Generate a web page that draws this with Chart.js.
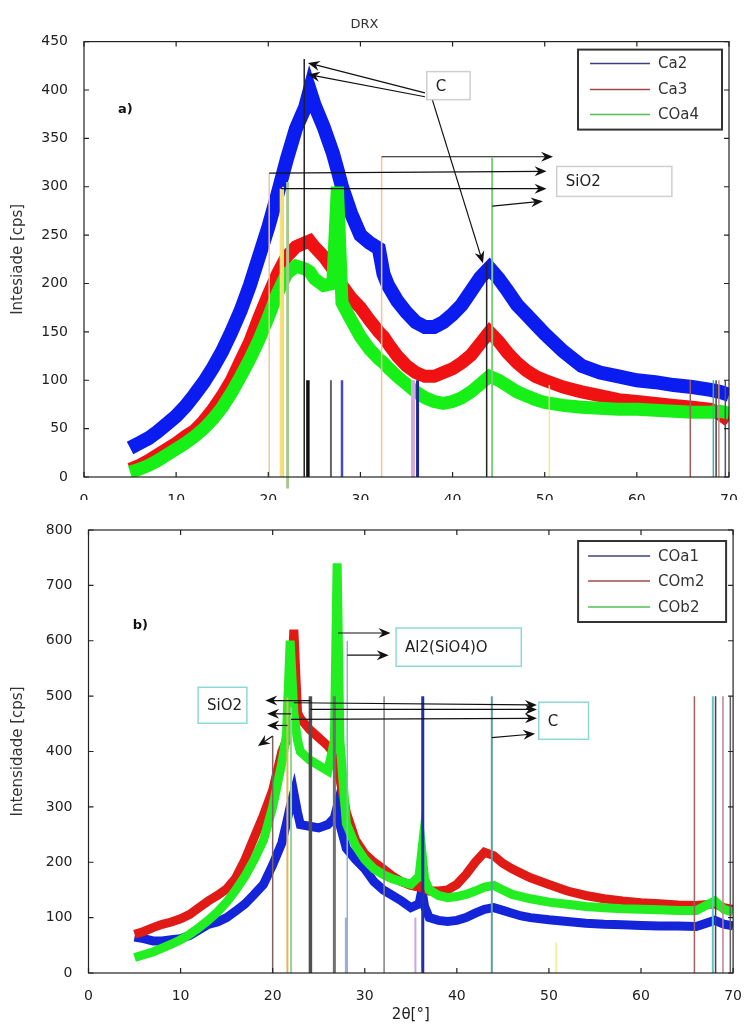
<!DOCTYPE html>
<html>
<head>
<meta charset="utf-8">
<script src="https://cdn.jsdelivr.net/npm/chart.js@4.4.0/dist/chart.umd.min.js"></script>
<style>
  html, body { margin: 0; padding: 0; background: #fff; }
  #wrap { position: relative; width: 749px; height: 1027px; overflow: hidden; }
  .panel { position: absolute; left: 0; width: 749px; }
  #p1 { top: 0; height: 500px; }
  #p2 { top: 500px; height: 527px; }
</style>
</head>
<body>
<div id="wrap">
  <div class="panel" id="p1"><canvas id="chartA"></canvas></div>
  <div class="panel" id="p2"><canvas id="chartB"></canvas></div>
</div>
<script>
// --- data, panel a) ---
const xTicks = [0, 10, 20, 30, 40, 50, 60, 70];
const yTicksA = [0, 50, 100, 150, 200, 250, 300, 350, 400, 450];
const yTicksB = [0, 100, 200, 300, 400, 500, 600, 700, 800];

const thetaA = [5, 6, 7, 8, 9, 10, 11, 12, 13, 14, 15, 16, 17, 18, 19, 20, 21, 22, 23, 24,
  24.5, 25, 26, 27, 27.5, 28, 29, 30, 31, 32, 32.5, 33, 34, 35, 36, 37, 38, 39, 40, 41,
  42, 43, 44, 45, 46, 47, 48, 49, 50, 52, 54, 56, 58, 60, 62, 64, 66, 68, 69, 70];
const ca2 = [30, 35, 40, 47, 55, 63, 73, 85, 98, 113, 130, 150, 172, 198, 228, 258, 292, 328, 360, 382,
  400, 385, 362, 335, 318, 300, 272, 250, 242, 236, 210, 198, 182, 170, 160, 155, 155, 160, 168, 178,
  192, 206, 216, 205, 192, 178, 168, 158, 148, 130, 115, 108, 104, 100, 98, 95, 93, 90, 88, 85];
const ca3 = [8, 12, 17, 23, 29, 35, 42, 48, 58, 70, 84, 100, 120, 140, 165, 188, 210, 228, 238, 242,
  244, 238, 228, 215, 208, 198, 185, 175, 162, 150, 145, 138, 125, 115, 108, 104, 104, 108, 112, 118,
  126, 138, 150, 140, 128, 118, 110, 104, 100, 93, 88, 84, 80, 78, 76, 74, 72, 70, 65, 58];
const coa4 = [5, 8, 12, 17, 23, 29, 35, 42, 50, 60, 72, 87, 104, 122, 142, 165, 190, 210, 218, 215,
  212, 205, 198, 200, 300, 180, 162, 145, 132, 122, 118, 113, 104, 96, 88, 82, 78, 76, 78, 82,
  88, 96, 104, 100, 94, 88, 84, 80, 77, 74, 72, 71, 70, 70, 69, 68, 67, 67, 68, 66];

// reference peak markers, panel a)
const peaksA = [20.1, 21.4, 21.6, 22.1, 23.9, 24.3, 26.8, 28.0, 32.3, 35.7, 36.2, 43.7, 44.3, 50.5, 65.8, 68.3, 68.6, 68.9, 69.6];
const peakTopA = [314, 298, 300, 305, 432, 100, 100, 100, 331, 100, 100, 222, 330, 95, 100, 100, 100, 100, 100];
const peakBaseA = [0, 0, 0, -12, 0, 0, 0, 0, 0, 0, 0, 0, 0, 0, 0, 0, 0, 0, 0];

// --- data, panel b) ---
const thetaB = [5, 6, 7, 8, 9, 10, 11, 12, 13, 14, 15, 16, 17, 18, 19, 20, 21, 21.5, 21.9, 22.3,
  22.7, 23, 24, 25, 26, 26.7, 27, 27.3, 28, 29, 30, 31, 32, 33, 34, 35, 35.9, 36.2, 36.5, 37,
  38, 39, 40, 41, 42, 43, 44, 45, 46, 47, 48, 50, 52, 54, 56, 58, 60, 62, 64, 66, 68, 69, 70];
const coa1 = [65, 62, 58, 58, 60, 62, 68, 78, 88, 92, 100, 112, 125, 142, 160, 195, 235, 270, 300, 325,
  290, 268, 265, 262, 268, 280, 300, 268, 225, 205, 188, 165, 150, 140, 130, 118, 125, 150, 120, 100,
  95, 93, 95, 100, 108, 115, 118, 113, 108, 103, 100, 96, 93, 90, 88, 87, 86, 85, 85, 84, 95, 88, 85];
const com2 = [70, 75, 82, 88, 92, 98, 106, 118, 130, 140, 152, 172, 205, 245, 285, 330, 400, 420, 480, 620,
  470, 460, 440, 425, 410, 395, 380, 350, 290, 240, 215, 200, 188, 175, 165, 158, 155, 165, 152, 148,
  148, 150, 160, 178, 200, 218, 212, 198, 188, 180, 172, 160, 148, 140, 134, 130, 127, 125, 123, 122, 125, 118, 115];
const cob2 = [28, 33, 38, 45, 52, 60, 70, 82, 95, 110, 128, 150, 175, 205, 240, 300, 380, 430, 600, 470,
  420, 400, 385, 375, 365, 420, 740, 420, 270, 230, 205, 188, 178, 170, 165, 160, 175, 220, 170, 150,
  140, 136, 138, 142, 148, 155, 158, 150, 142, 138, 134, 128, 124, 120, 118, 116, 115, 114, 113, 113, 130, 115, 110];

const peaksB = [20.0, 21.6, 22.0, 24.1, 26.7, 28.0, 28.1, 32.1, 35.5, 36.3, 43.8, 50.8, 65.8, 67.8, 68.1, 68.9, 69.7];
const peakTopB = [428, 498, 480, 500, 500, 100, 600, 500, 100, 500, 500, 55, 500, 500, 500, 500, 500];

Chart.defaults.font.family = '"DejaVu Sans", Arial, sans-serif';
Chart.defaults.color = '#222';

function pts(xs, ys) { return xs.map((x, i) => ({ x: x, y: ys[i] })); }

function arrow(ctx, x0, y0, x1, y1) {
  const ang = Math.atan2(y1 - y0, x1 - x0);
  ctx.strokeStyle = '#111';
  ctx.lineWidth = 1.2;
  ctx.beginPath();
  ctx.moveTo(x0, y0);
  ctx.lineTo(x1 - Math.cos(ang) * 5, y1 - Math.sin(ang) * 5);
  ctx.stroke();
  ctx.save();
  ctx.translate(x1, y1);
  ctx.rotate(ang);
  ctx.fillStyle = '#111';
  ctx.beginPath();
  ctx.moveTo(0, 0);
  ctx.lineTo(-12, -5);
  ctx.lineTo(-8, 0);
  ctx.lineTo(-12, 5);
  ctx.closePath();
  ctx.fill();
  ctx.restore();
}

// stems, arrows, text boxes, matlab-like frame and legend
function decor(cfg) {
  return {
    id: 'decor',
    afterDatasetsDraw(chart) {
      const ctx = chart.ctx, a = chart.chartArea;
      const xs = chart.scales.x, ys = chart.scales.y;
      const X = v => xs.getPixelForValue(v), Y = v => ys.getPixelForValue(v);
      ctx.save();

      cfg.peaks.forEach((p, i) => {
        ctx.beginPath();
        ctx.strokeStyle = cfg.stemColor[i];
        ctx.lineWidth = cfg.stemWidth[i];
        ctx.moveTo(X(p), Y(cfg.base ? cfg.base[i] : 0));
        ctx.lineTo(X(p), Y(cfg.tops[i]));
        ctx.stroke();
      });

      cfg.arrows.forEach(r => arrow(ctx, X(r[0]), Y(r[1]), X(r[2]), Y(r[3])));

      cfg.boxes.forEach(b => {
        const l = X(b.x0), r = X(b.x1), t = Y(b.y1), bt = Y(b.y0);
        ctx.fillStyle = '#fff';
        ctx.fillRect(l, t, r - l, bt - t);
        ctx.strokeStyle = cfg.boxColor;
        ctx.lineWidth = 1.5;
        ctx.strokeRect(l, t, r - l, bt - t);
        ctx.fillStyle = '#222';
        ctx.font = '15px "DejaVu Sans", Arial, sans-serif';
        ctx.textAlign = 'left';
        ctx.textBaseline = 'middle';
        ctx.fillText(b.text, l + 9, (t + bt) / 2 + 1);
      });

      ctx.font = 'bold 13px "DejaVu Sans", Arial, sans-serif';
      ctx.fillStyle = '#111';
      ctx.textAlign = 'left';
      ctx.textBaseline = 'middle';
      ctx.fillText(cfg.panel.text, X(cfg.panel.x), Y(cfg.panel.y));

      // axes box with inward ticks
      ctx.strokeStyle = '#222';
      ctx.lineWidth = 1.2;
      ctx.strokeRect(a.left, a.top, a.right - a.left, a.bottom - a.top);
      ctx.beginPath();
      xs.ticks.forEach(t => {
        const px = X(t.value);
        ctx.moveTo(px, a.bottom); ctx.lineTo(px, a.bottom - 5);
        ctx.moveTo(px, a.top); ctx.lineTo(px, a.top + 5);
      });
      ys.ticks.forEach(t => {
        const py = Y(t.value);
        ctx.moveTo(a.left, py); ctx.lineTo(a.left + 5, py);
        ctx.moveTo(a.right, py); ctx.lineTo(a.right - 5, py);
      });
      ctx.stroke();

      // legend
      const L = cfg.legend;
      const lx = a.right - L.right - L.w, ly = a.top + L.top;
      ctx.fillStyle = '#fff';
      ctx.fillRect(lx, ly, L.w, L.h);
      ctx.strokeStyle = '#333';
      ctx.lineWidth = 2;
      ctx.strokeRect(lx, ly, L.w, L.h);
      ctx.font = '15px "DejaVu Sans", Arial, sans-serif';
      ctx.textBaseline = 'middle';
      chart.data.datasets.forEach((ds, i) => {
        const ry = ly + L.rows[i];
        ctx.strokeStyle = ds.legendColor;
        ctx.lineWidth = 1.5;
        ctx.beginPath();
        ctx.moveTo(lx + L.line0, ry);
        ctx.lineTo(lx + L.line1, ry);
        ctx.stroke();
        ctx.fillStyle = '#333';
        ctx.fillText(ds.label, lx + 80, ry + 1);
      });
      ctx.restore();
    }
  };
}

function series(label, xs, ys, color, legendColor, width, order) {
  return {
    label: label, data: pts(xs, ys), borderColor: color, backgroundColor: color,
    legendColor: legendColor, borderWidth: width, pointRadius: 0, showLine: true,
    tension: 0, order: order
  };
}

function axes(yMax, yTitle, yWidth, xHeight, xTitle) {
  return {
    x: {
      type: 'linear', min: 0, max: 70,
      afterBuildTicks: s => { s.ticks = xTicks.map(v => ({ value: v })); },
      ticks: { padding: 7, font: { size: 14 }, color: '#222' },
      grid: { display: false }, border: { display: false },
      title: xTitle ? { display: true, text: xTitle, font: { size: 15 }, color: '#222', padding: { top: 4, bottom: 3 } } : { display: false },
      afterFit: s => { s.height = xHeight; }
    },
    y: {
      type: 'linear', min: 0, max: yMax,
      afterBuildTicks: s => { s.ticks = (yMax === 450 ? yTicksA : yTicksB).map(v => ({ value: v })); },
      ticks: { padding: 8, font: { size: 14 }, color: '#222' },
      grid: { display: false }, border: { display: false },
      title: { display: true, text: yTitle, font: { size: 15 }, color: '#333', padding: { top: 9, bottom: 0 } },
      afterFit: s => { s.width = yWidth; }
    }
  };
}

new Chart(document.getElementById('chartA'), {
  type: 'scatter',
  data: {
    datasets: [
      series('Ca2', thetaA, ca2, '#0a1cf0', '#3b4280', 14, 3),
      series('Ca3', thetaA, ca3, '#f01212', '#a04848', 13, 2),
      series('COa4', thetaA, coa4, '#16f016', '#52c052', 13, 1)
    ]
  },
  options: {
    responsive: true, maintainAspectRatio: false, animation: false,
    layout: { padding: { left: 0, right: 20, top: 0, bottom: 0 } },
    plugins: {
      legend: { display: false }, tooltip: { enabled: false },
      title: { display: true, text: 'DRX', font: { size: 13, weight: 'normal' }, color: '#333', padding: { top: 17, bottom: 9 } }
    },
    scales: axes(450, 'Intesiade [cps]', 84, 23, null)
  },
  plugins: [decor({
    peaks: peaksA, tops: peakTopA, base: peakBaseA,
    stemColor: ['#f2c49a', '#f3e27a', '#f0dc70', '#a8c890', '#222', '#111', '#666', '#4848c0', '#f2c49a', '#d4a8e8',
      '#1c2a90', '#222', '#7cc87c', '#f3ea90', '#a05a5a', '#4aa8a8', '#404040', '#c08888', '#505070'],
    stemWidth: [1.5, 3, 2, 3, 1.5, 3.5, 2, 2.5, 1.5, 4, 3, 1.5, 2, 1.5, 1.5, 1.5, 1.5, 1.5, 1.5],
    arrows: [[37.0, 397, 24.3, 428], [37.0, 393, 24.3, 416], [37.8, 390, 43.3, 221],
      [32.3, 331, 50.9, 331], [20.1, 314, 50.2, 316], [21.4, 298, 50.2, 298], [44.3, 280, 49.8, 285]],
    boxes: [{ x0: 37.2, x1: 41.9, y0: 390, y1: 419, text: 'C' }, { x0: 51.3, x1: 63.8, y0: 290, y1: 321, text: 'SiO2' }],
    boxColor: '#cfcfcf',
    panel: { text: 'a)', x: 3.7, y: 380 },
    legend: { right: 7, top: 8, w: 144, h: 80, rows: [14, 40, 65], line0: 12, line1: 72 }
  })]
});

new Chart(document.getElementById('chartB'), {
  type: 'scatter',
  data: {
    datasets: [
      series('COa1', thetaB, coa1, '#1424d8', '#3b4280', 9, 3),
      series('COm2', thetaB, com2, '#e01a14', '#a04848', 9, 2),
      series('COb2', thetaB, cob2, '#22ee22', '#52c052', 9, 1)
    ]
  },
  options: {
    responsive: true, maintainAspectRatio: false, animation: false,
    layout: { padding: { left: 0, right: 11, top: 30, bottom: 0 } },
    plugins: { legend: { display: false }, tooltip: { enabled: false } },
    scales: axes(800, 'Intensidade [cps]', 88.5, 54, '2θ[°]')
  },
  plugins: [decor({
    peaks: peaksB, tops: peakTopB,
    stemColor: ['#806060', '#e4b460', '#94d494', '#505050', '#707070', '#a8a8e8', '#94b4c4', '#808080', '#c8a8e8',
      '#2030a8', '#60a0a0', '#f0f0a0', '#a06060', '#60c4c4', '#404050', '#c08090', '#606060'],
    stemWidth: [1.5, 2, 2, 3.5, 3, 3, 1.5, 1.5, 2, 3, 2, 2, 1.5, 2, 1.5, 1.5, 1.5],
    arrows: [[24.1, 492, 19.2, 492], [22.0, 468, 19.4, 468], [21.6, 447, 19.4, 447], [20.0, 428, 18.4, 410],
      [22.3, 488, 48.7, 484], [24.1, 476, 48.7, 476], [22.0, 458, 48.7, 460], [43.8, 425, 48.5, 432],
      [27.1, 614, 32.8, 614], [28.1, 574, 32.6, 574]],
    boxes: [{ x0: 11.9, x1: 17.2, y0: 451, y1: 516, text: 'SiO2' },
      { x0: 33.4, x1: 47.0, y0: 554, y1: 623, text: 'Al2(SiO4)O' },
      { x0: 48.9, x1: 54.3, y0: 422, y1: 489, text: 'C' }],
    boxColor: '#8ed8d8',
    panel: { text: 'b)', x: 4.8, y: 628 },
    legend: { right: 7, top: 11, w: 148, h: 81, rows: [15, 40, 66], line0: 10, line1: 72 }
  })]
});
</script>
</body>
</html>
